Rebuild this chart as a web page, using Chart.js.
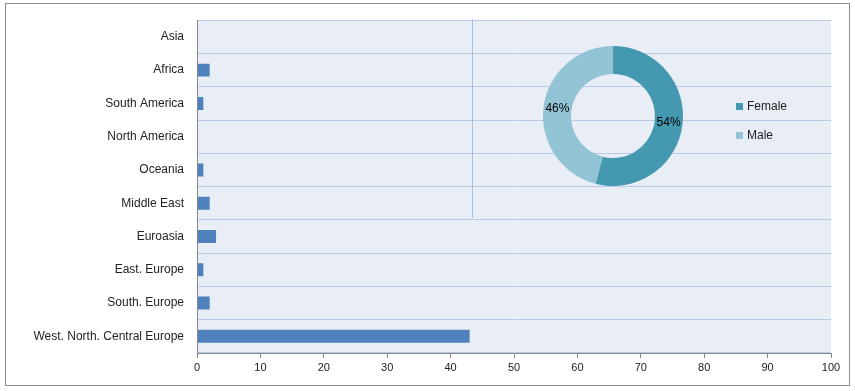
<!DOCTYPE html>
<html>
<head>
<meta charset="utf-8">
<script src="https://cdn.jsdelivr.net/npm/chart.js@4.4.1/dist/chart.umd.min.js"></script>
<style>
  body { margin: 0; background: #fff; font-family: "Liberation Sans", Arial, sans-serif; }
  #wrap { position: relative; width: 855px; height: 391px; }
  #frame { position: absolute; left: 5px; top: 3px; width: 843px; height: 381px; border: 1px solid #8c8c8c; }
  #barChart { position: absolute; left: 0; top: 0; }
  #pieBox { position: absolute; left: 472px; top: 19px; width: 360px; height: 199px; border-left: 1px solid #a9bde6; }
  #legend { position: absolute; left: 736px; top: 98px; font-size: 12px; color: #222; }
  .item { height: 29px; line-height: 16px; }
  .box { display: inline-block; width: 7px; height: 7px; margin-right: 4px; vertical-align: 0px; }
</style>
</head>
<body>
<div id="wrap">
  <div id="frame"></div>
  <canvas id="barChart" width="855" height="391"></canvas>
  <div id="pieBox"><canvas id="pieChart" width="360" height="199"></canvas></div>
  <div id="legend"></div>
</div>
<script>
// bar chart data
const regions = ["Asia", "Africa", "South America", "North America", "Oceania", "Middle East",
  "Euroasia", "East. Europe", "South. Europe", "West. North. Central Europe"];
const regionCounts = [0, 2, 1, 0, 1, 2, 3, 1, 2, 43];
const xTicks = [0, 10, 20, 30, 40, 50, 60, 70, 80, 90, 100];

// doughnut data
const genders = ["Female", "Male"];
const genderShare = [54, 46];
const genderColors = ["#4499b0", "#93c4d5"];

const plotBg = {
  id: "plotBg",
  beforeDraw(chart) {
    const a = chart.chartArea;
    chart.ctx.save();
    chart.ctx.fillStyle = "#e9edf5";
    chart.ctx.fillRect(a.left, a.top, a.right - a.left, a.bottom - a.top);
    chart.ctx.restore();
  }
};

new Chart(document.getElementById("barChart"), {
  type: "bar",
  data: {
    labels: regions,
    datasets: [{
      data: regionCounts,
      backgroundColor: "#4f81bd",
      categoryPercentage: 1,
      barPercentage: 0.39
    }]
  },
  options: {
    indexAxis: "y",
    responsive: false,
    animation: false,
    layout: { padding: { top: 19, right: 24, left: 0, bottom: 0 } },
    plugins: { legend: { display: false }, tooltip: { enabled: false } },
    scales: {
      x: {
        min: 0,
        max: 100,
        afterBuildTicks(scale) { scale.ticks = xTicks.map(v => ({ value: v })); },
        afterFit(scale) { scale.height = 38; },
        grid: { drawOnChartArea: false, color: "#868686", tickLength: 5 },
        border: { color: "#868686", z: 1 },
        ticks: { color: "#222", font: { family: "Liberation Sans", size: 11 }, padding: 3, maxRotation: 0 }
      },
      y: {
        afterFit(scale) { scale.width = 197; },
        grid: {
          // last boundary sits on the x axis line, leave it to the axis
          color: c => c.index >= regions.length ? "rgba(0,0,0,0)" : "#b9c9e9",
          drawTicks: false
        },
        border: { color: "#868686", z: 1 },
        ticks: { color: "#222", font: { family: "Liberation Sans", size: 12 }, padding: 13 }
      }
    }
  },
  plugins: [plotBg]
});

const pctLabels = {
  id: "pctLabels",
  afterDatasetsDraw(chart) {
    const ctx = chart.ctx;
    const meta = chart.getDatasetMeta(0);
    ctx.save();
    ctx.fillStyle = "#000";
    ctx.font = "12px 'Liberation Sans'";
    ctx.textAlign = "center";
    ctx.textBaseline = "middle";
    meta.data.forEach((arc, i) => {
      const p = arc.tooltipPosition();
      ctx.fillText(genderShare[i] + "%", p.x, p.y);
    });
    ctx.restore();
  }
};

new Chart(document.getElementById("pieChart"), {
  type: "doughnut",
  data: {
    labels: genders,
    datasets: [{ data: genderShare, backgroundColor: genderColors, borderWidth: 0 }]
  },
  options: {
    responsive: false,
    animation: false,
    cutout: "60%",
    layout: { padding: { left: 0, right: 80, top: 27, bottom: 32 } },
    plugins: { legend: { display: false }, tooltip: { enabled: false } }
  },
  plugins: [pctLabels]
});

document.getElementById("legend").innerHTML = genders.map((g, i) =>
  '<div class="item"><span class="box" style="background:' + genderColors[i] + '"></span>' + g + '</div>'
).join("");
</script>
</body>
</html>
